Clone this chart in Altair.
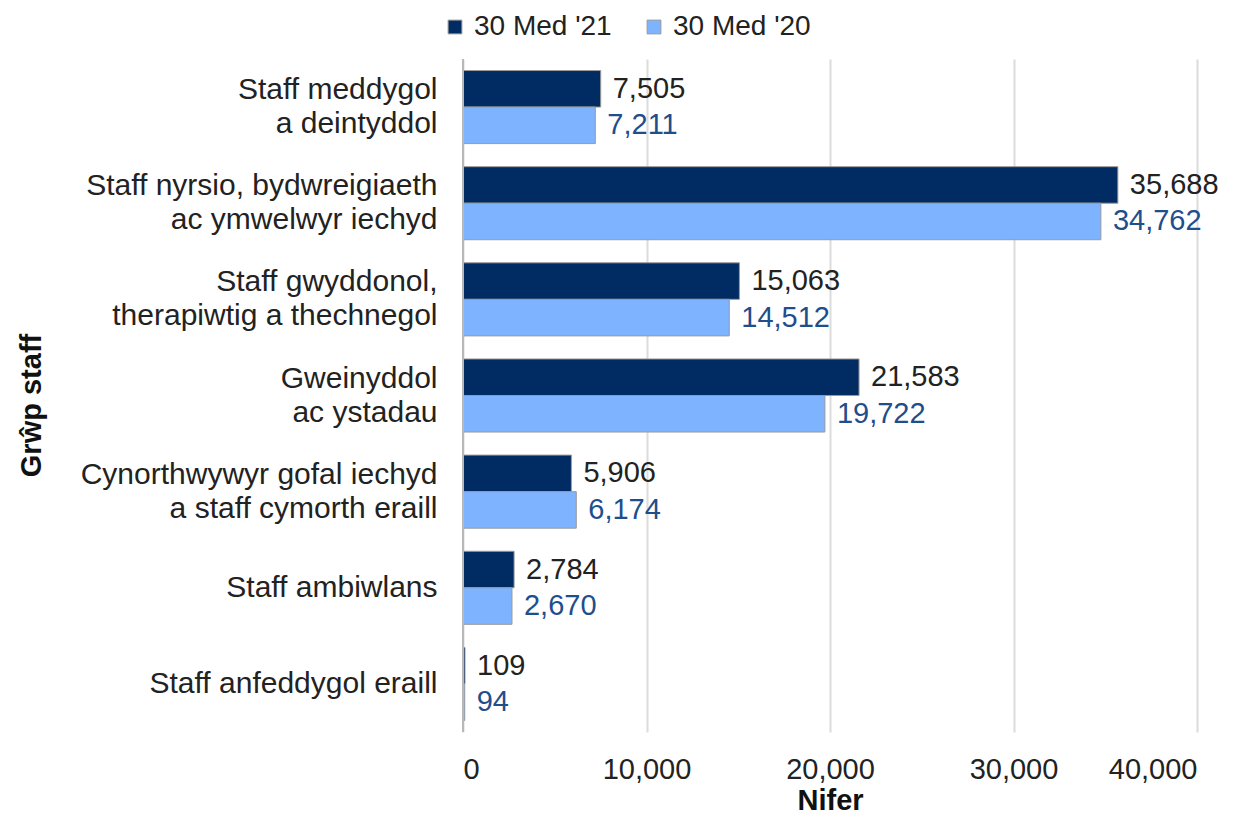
import altair as alt
import pandas as pd

categories = [
    "Staff meddygol|a deintyddol",
    "Staff nyrsio, bydwreigiaeth|ac ymwelwyr iechyd",
    "Staff gwyddonol,|therapiwtig a thechnegol",
    "Gweinyddol|ac ystadau",
    "Cynorthwywyr gofal iechyd|a staff cymorth eraill",
    "Staff ambiwlans",
    "Staff anfeddygol eraill",
]
series = ["30 Med '21", "30 Med '20"]
values_2021 = [7505, 35688, 15063, 21583, 5906, 2784, 109]
values_2020 = [7211, 34762, 14512, 19722, 6174, 2670, 94]
x_ticks = [0, 10000, 20000, 30000, 40000]

rows = []
for c, a, b in zip(categories, values_2021, values_2020):
    rows.append({"group": c, "series": series[0], "value": a})
    rows.append({"group": c, "series": series[1], "value": b})
df = pd.DataFrame(rows)

font = "Liberation Sans"
FS = 29

x_scale = alt.Scale(domain=[0, 40000], nice=False)
y_scale = alt.Scale(paddingInner=0.24, paddingOuter=0.12)

y_enc = alt.Y(
    "group:N",
    sort=categories,
    title="Grŵp staff",
    scale=y_scale,
    axis=alt.Axis(
        labelExpr="split(datum.label, '|')",
        labelFontSize=30,
        labelFont=font,
        labelColor="#222222",
        labelLineHeight=34,
        labelPadding=26,
        labelOffset={"condition": {"test": "indexof(datum.label, '|') >= 0", "value": -17}, "value": 0},
        ticks=False,
        domain=False,
        titleFontSize=FS,
        titleFont=font,
        titleFontWeight="bold",
        titleColor="#111111",
        titleX=-417,
        titleY=346,
        labelLimit=600,
    ),
)
yoff = alt.YOffset("series:N", sort=series, scale=alt.Scale(paddingInner=0.0))
color = alt.Color(
    "series:N",
    sort=series,
    scale=alt.Scale(domain=series, range=["#002B63", "#7DB3FF"]),
    legend=alt.Legend(
        title=None,
        orient="none",
        direction="horizontal",
        legendX=-22,
        legendY=-46,
        symbolType="square",
        symbolSize=190,
        symbolStrokeColor="#999999",
        symbolStrokeWidth=1,
        labelFontSize=28,
        labelFont=font,
        labelColor="#222222",
        columnPadding=28,
        labelOffset=5,
    ),
)

bars = alt.Chart(df).mark_bar(stroke="#9a9a9a", strokeWidth=1).encode(
    x=alt.X(
        "value:Q",
        title="Nifer",
        scale=x_scale,
        axis=alt.Axis(
            values=x_ticks,
            labelExpr="format(datum.value, ',')",
            labelFontSize=FS,
            labelFont=font,
            labelColor="#222222",
            labelBaseline="alphabetic",
            labelPadding=46,
            ticks=False,
            domain=False,
            grid=True,
            gridColor="#dcdcdc",
            gridWidth=2,
            titleFontSize=FS,
            titleFont=font,
            titleFontWeight="bold",
            titleColor="#111111",
            titleBaseline="alphabetic",
            titleY=77,
        ),
    ),
    y=y_enc,
    yOffset=yoff,
    color=color,
)

text = alt.Chart(df).mark_text(
    align="left", baseline="middle", dx=12, fontSize=FS, font=font
).encode(
    x=alt.X("value:Q", scale=x_scale),
    y=alt.Y("group:N", sort=categories, scale=y_scale),
    yOffset=yoff,
    text=alt.Text("value:Q", format=","),
    color=alt.Color(
        "series:N",
        sort=series,
        scale=alt.Scale(domain=series, range=["#222222", "#1F4E8C"]),
        legend=None,
    ),
)

zero = alt.Chart(pd.DataFrame({"x": [0]})).mark_rule(color="#b8b8b8", strokeWidth=2).encode(
    x=alt.X("x:Q", scale=x_scale)
)

chart = (
    alt.layer(bars, zero, text)
    .resolve_scale(color="independent")
    .properties(
        width=734,
        height=673,
        background="white",
        autosize=alt.AutoSizeParams(type="none"),
        padding={"left": 455, "top": 51, "right": 48, "bottom": 83},
    )
    .configure_view(stroke=None)
)
chart.save("out.html", embed_options={"renderer": "svg", "actions": False})
